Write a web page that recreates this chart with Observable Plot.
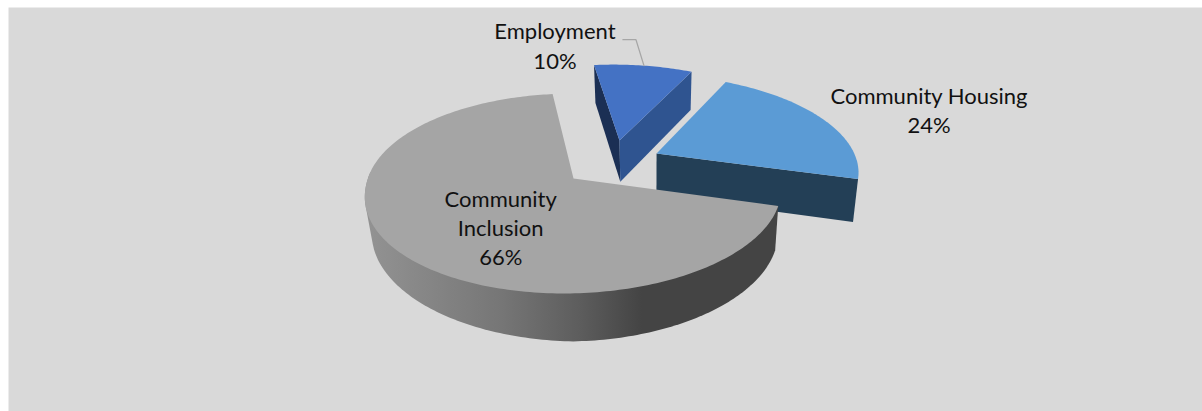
<!DOCTYPE html>
<html>
<head>
<meta charset="utf-8">
<script src="https://cdn.jsdelivr.net/npm/d3@7"></script>
<script src="https://cdn.jsdelivr.net/npm/@observablehq/plot@0.6"></script>
<style>
  html, body { margin: 0; padding: 0; background: #fff; }
  svg { display: block; }
</style>
</head>
<body>
<div id="chart"></div>
<script>
// Program funding split
const categories = ["Employment", "Community Housing", "Community Inclusion"];
const shares = [10, 24, 66];
const labelLines = [["Employment"], ["Community Housing"], ["Community", "Inclusion"]];

// Look of each slice
const topColors = ["#4472c4", "#5b9bd5", "#a5a5a5"];
const explode = [[0.2376, 0.413], [0.42, 0.265], [0, 0]];
const labelOffsets = [[-89, -21], [107, -9], [106, -22]];

const rad = Math.PI / 180;

// Camera of the tilted disc: ground units to page pixels
const view = {cx: 573, cy: 178, rx: 205.6, ry: 97.7, persp: 0.15, skew: 0.1, skewAt: 229 * rad, drift: 0.1, driftSoft: 20};
const sinkView = {lean: 0.0244, leanAt: 652, base: 35.15, grow: 0.0439, tilt: 0.035, tiltAt: 570};

function project([gx, gy]) {
  const w = 1 + view.persp * gy;
  const dy = view.ry * -gy / w;
  // The near side of the disc drifts slightly to the left
  const drift = dy > 0 ? view.drift * dy * dy / (dy + view.driftSoft) : 0;
  return [view.cx + view.rx * gx / w - drift, view.cy + dy];
}
// Where a point of the top face lands on the underside of the disc
function sink([x, y]) {
  const thin = x < sinkView.tiltAt ? sinkView.tilt * (sinkView.tiltAt - x) : 0;
  return [x - sinkView.lean * (x - sinkView.leanAt), y + sinkView.base + sinkView.grow * y - thin];
}
function rim(angle, off) {
  const t = angle + view.skew * Math.sin(angle - view.skewAt);
  return project([off[0] + Math.sin(t), off[1] + Math.cos(t)]);
}
function arc(a0, a1, off) {
  const n = Math.max(4, Math.ceil(Math.abs(a1 - a0) / rad));
  return d3.range(n + 1).map(i => rim(a0 + (a1 - a0) * i / n, off));
}

const arcs = d3.pie().sort(null).startAngle(-11.7 * rad).endAngle((360 - 11.7) * rad)(shares);

const faces = [];
function face(id, fill, pts) {
  pts.forEach(([x, y]) => faces.push({id, fill, x, y}));
}

// Employment: two cut faces, then its top
{
  const off = explode[0], a = arcs[0], apex = project(off);
  const left = rim(a.startAngle, off), right = rim(a.endAngle, off);
  face("emp-left", "#1b2f54", [left, apex, sink(apex), sink(left)]);
  face("emp-right", "#2f5490", [apex, right, sink(right), sink(apex)]);
  face("emp-top", topColors[0], [apex, ...arc(a.startAngle, a.endAngle, off)]);
}
// Community Housing: front cut face, then its top
{
  const off = explode[1], a = arcs[1], apex = project(off);
  const right = rim(a.endAngle, off);
  face("housing-front", "#233f56", [apex, right, sink(right), sink(apex)]);
  face("housing-top", topColors[1], [apex, ...arc(a.startAngle, a.endAngle, off)]);
}
// Community Inclusion: curved wall as the hull of both rims, then its top
{
  const off = explode[2], a = arcs[2], apex = project(off);
  const wallTop = arc(a.startAngle, 270 * rad, off);
  face("inclusion-wall", "url(#wallShade)", d3.polygonHull([...wallTop, ...wallTop.map(sink)]));
  face("inclusion-top", topColors[2], [apex, ...arc(a.startAngle, a.endAngle, off)]);
}

// Text blocks and the one leader line, anchored to the middle of each slice's rim
const anchors = arcs.map((a, i) => rim((a.startAngle + a.endAngle) / 2, explode[i]));
const labels = categories.map((c, i) => ({
  text: [...labelLines[i], `${shares[i]}%`].join("\n"),
  x: anchors[i][0] + labelOffsets[i][0],
  y: anchors[i][1] + labelOffsets[i][1]
}));
const leader = [[-21, -26], [-8, -26], [0, 0]].map(([dx, dy]) => ({x: anchors[0][0] + dx, y: anchors[0][1] + dy}));

const wallStops = [[0, "#939393"], [0.33, "#767676"], [0.52, "#5d5d5d"], [0.67, "#444444"], [1, "#444444"]];
function shadeDefs() {
  const defs = d3.create("svg:defs");
  const g = defs.append("linearGradient").attr("id", "wallShade");
  wallStops.forEach(([o, c]) => g.append("stop").attr("offset", o).attr("stop-color", c));
  return defs.node();
}

const chart = Plot.plot({
  width: 1202,
  height: 411,
  marginLeft: 8,
  marginTop: 7,
  marginRight: 0,
  marginBottom: 0,
  x: {domain: [8, 1202], axis: null},
  y: {domain: [7, 411], range: [7, 411], axis: null},
  color: {type: "identity"},
  style: {background: "#fff"},
  marks: [
    Plot.frame({fill: "#d9d9d9", stroke: "none"}),
    shadeDefs,
    Plot.line(faces, {x: "x", y: "y", z: "id", fill: "fill", stroke: "none", curve: "linear-closed"}),
    Plot.line(leader, {x: "x", y: "y", stroke: "#a6a6a6", strokeWidth: 1.3, curve: "linear"}),
    Plot.text(labels, {
      x: "x", y: "y", text: "text",
      fontFamily: "Lato", fontSize: 22, lineHeight: 1.33,
      fill: "#111111", textAnchor: "middle", lineAnchor: "middle"
    })
  ]
});
document.getElementById("chart").append(chart);
</script>
</body>
</html>
